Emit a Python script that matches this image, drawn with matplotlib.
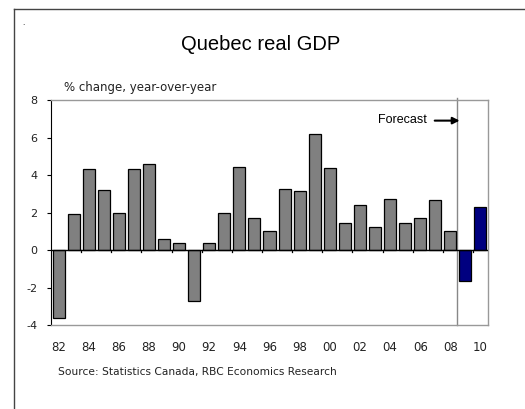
import matplotlib
matplotlib.use("Agg")
import matplotlib.pyplot as plt
from matplotlib.lines import Line2D
import numpy as np

# ===データ===
years = list(range(1982, 2011))
gdp_change = [-3.6, 1.9, 4.3, 3.2, 2.0, 4.3, 4.6, 0.6, 0.35, -2.7,
              0.4, 2.0, 4.45, 1.7, 1.0, 3.25, 3.15, 6.2, 4.35, 1.45,
              2.4, 1.25, 2.7, 1.45, 1.7, 2.65, 1.0, -1.65, 2.3]
forecast_from = 2009
year_labels = ["82", "84", "86", "88", "90", "92", "94", "96", "98",
               "00", "02", "04", "06", "08", "10"]
y_ticks = [-4, -2, 0, 2, 4, 6, 8]

plt.rcParams['font.family'] = ['Liberation Sans', 'DejaVu Sans']
small = ['DejaVu Sans']  # 目盛り・注記用の幅広フォント

W, H = 525, 409
fig = plt.figure(figsize=(W / 100, H / 100), dpi=100)
ax = fig.add_axes([51 / W, 1 - 325 / H, 437 / W, 225 / H])

x = np.arange(len(years))
colors = ["#000080" if y >= forecast_from else "#808080" for y in years]
ax.bar(x, gdp_change, width=0.8, color=colors, edgecolor="black", linewidth=0.9, zorder=2)

ax.set_xlim(-0.5, len(years) - 0.5)
ax.set_ylim(-4, 8)
ax.set_yticks(y_ticks)
ax.set_yticklabels([str(v) for v in y_ticks], fontsize=8, color="#222222", family=small)
ax.tick_params(axis="y", length=3, width=0.8, pad=7)

# x軸: 目盛りはゼロ線、ラベルは下
ax.set_xticks([])
ax.axhline(0, color="black", linewidth=1.0, zorder=3)
for b in np.arange(1.5, len(years) - 1, 2):
    ax.plot([b, b], [0, -0.13], color="black", linewidth=0.9, zorder=3, clip_on=False)
for i, lab in enumerate(year_labels):
    ax.text(2 * i, -5.2, lab, ha="center", va="center", fontsize=8.5,
            color="#222222", family=small)

for s in ["top", "right", "bottom"]:
    ax.spines[s].set_color("#999999")
    ax.spines[s].set_linewidth(1.0)
ax.spines["left"].set_color("black")

# 予測ライン
fl = years.index(forecast_from) - 0.55
ax.plot([fl, fl], [-4, 8.1], color="#888888", linewidth=1.0, zorder=1, clip_on=False)
ax.text(fl - 2.0, 6.95, "Forecast", ha="right", va="center", fontsize=9)
ax.annotate("", xy=(fl + 0.35, 6.9), xytext=(fl - 1.67, 6.9),
            arrowprops=dict(arrowstyle="-|>", color="black", lw=1.5, mutation_scale=10))

# テキスト
fig.text(261 / W, 1 - 44 / H, "Quebec real GDP", ha="center", va="center", fontsize=14.5)
fig.text(64 / W, 1 - 87 / H, "% change, year-over-year", ha="left", va="center",
         fontsize=8.5, color="#222222", family=small)
fig.text(58 / W, 1 - 372 / H, "Source: Statistics Canada, RBC Economics Research",
         ha="left", va="center", fontsize=7.7, color="#222222", family=small)
fig.text(22 / W, 1 - 25 / H, ".", fontsize=6)

# 外枠
fig.add_artist(Line2D([14 / W, 14 / W], [0, 1 - 9 / H], color="#444444", linewidth=1.0))
fig.add_artist(Line2D([14 / W, 1], [1 - 9 / H, 1 - 9 / H], color="#444444", linewidth=1.0))

fig.savefig("out.png", dpi=100)
